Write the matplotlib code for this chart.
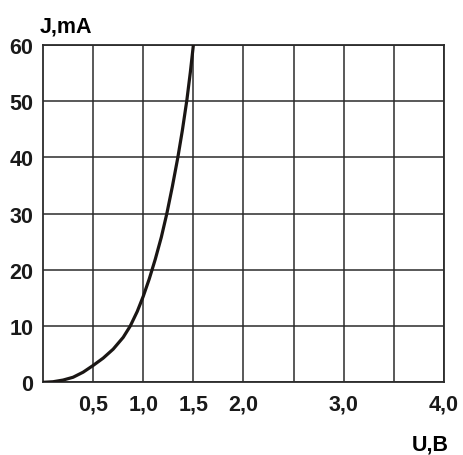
import numpy as np
from matplotlib import pyplot as plt

# diode I-V curve
U = [0, 0.1, 0.2, 0.3, 0.4, 0.5, 0.6, 0.7, 0.8, 0.87, 0.94, 1.0,
     1.06, 1.12, 1.18, 1.235, 1.29, 1.345, 1.39, 1.435, 1.47, 1.5]
J = [0, 0.1, 0.4, 0.9, 1.8, 3.0, 4.3, 5.9, 8.0, 10, 12.6, 15.3,
     18.4, 21.9, 25.8, 30, 34.8, 40, 44.8, 50.2, 55.2, 60]

x_ticks = [0.5, 1.0, 1.5, 2.0, 2.5, 3.0, 3.5, 4.0]
x_labels = ['0,5', '1,0', '1,5', '2,0', '', '3,0', '', '4,0']
y_ticks = [0, 10, 20, 30, 40, 50, 60]

plt.rcParams['font.family'] = ['Liberation Sans', 'DejaVu Sans']
plt.rcParams['font.weight'] = 'bold'
fs = 15.5

fig = plt.figure(figsize=(4.63, 4.56), dpi=100)
ax = fig.add_axes([0.0929, 0.1594, 0.866, 0.7396])

ax.plot(U, J, color='#1a1614', lw=2.3, solid_joinstyle='round', zorder=3)

ax.set_xlim(0, 4)
ax.set_ylim(0, 60)
ax.set_xticks(x_ticks)
ax.set_xticklabels(x_labels)
ax.set_yticks(y_ticks)
ax.tick_params(length=0, labelsize=fs, colors='#1a1a1a')
ax.tick_params(axis='x', pad=8)
ax.tick_params(axis='y', pad=7)
for lab in ax.get_xticklabels() + ax.get_yticklabels():
    lab.set_fontweight('bold')

ax.grid(True, color='#2b2b2b', lw=1.1)
for s in ax.spines.values():
    s.set_color('#2b2b2b')
    s.set_linewidth(1.3)

fig.text(40 / 463, 1 - 32 / 456, 'J,mA', fontsize=fs, fontweight='bold', ha='left', va='baseline')
fig.text(412 / 463, 1 - 451 / 456, 'U,B', fontsize=fs, fontweight='bold', ha='left', va='baseline')

fig.savefig('out.png', dpi=100)
